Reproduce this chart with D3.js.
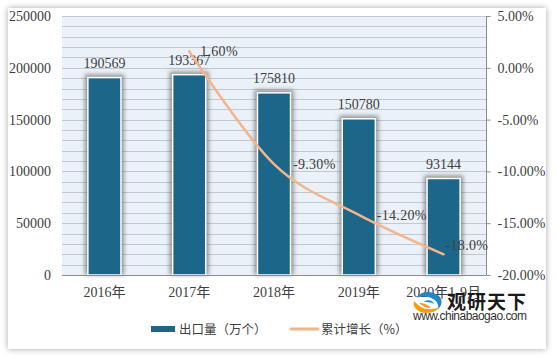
<!DOCTYPE html>
<html><head><meta charset="utf-8">
<script src="https://cdn.jsdelivr.net/npm/d3@7"></script>
<style>body{margin:0;background:#fff;overflow:hidden}</style>
</head><body>
<svg id="c" width="556" height="358"></svg>
<script>
const categories = ["2016年", "2017年", "2018年", "2019年", "2020年1-9月"];
const exportVolume = [190569, 193367, 175810, 150780, 93144];
const growthCategories = ["2017年", "2018年", "2019年", "2020年1-9月"];
const growthRate = [1.6, -9.3, -14.2, -18.0];
const growthLabels = ["1.60%", "-9.30%", "-14.20%", "-18.0%"];
const leftTicks = [0, 50000, 100000, 150000, 200000, 250000];
const rightTicks = [5, 0, -5, -10, -15, -20];
const rightTickLabels = ["5.00%", "0.00%", "-5.00%", "-10.00%", "-15.00%", "-20.00%"];
const legendNames = ["出口量（万个）", "累计增长（%）"];

// layout (not data)
const lineLabelOffsets = [[11, 0], [19, 0], [18, 0], [2, -9]];

const svg = d3.select("#c");
const defs = svg.append("defs");
const fs = defs.append("filter").attr("id", "cardShadow").attr("x", "-5%").attr("y", "-5%").attr("width", "110%").attr("height", "110%");
fs.append("feDropShadow").attr("dx", 0).attr("dy", 0).attr("stdDeviation", 3).attr("flood-color", "#000").attr("flood-opacity", 0.35);
const fb = defs.append("filter").attr("id", "barShadow").attr("x", "-30%").attr("y", "-10%").attr("width", "160%").attr("height", "120%");
fb.append("feGaussianBlur").attr("stdDeviation", 2);

svg.append("rect").attr("width", 556).attr("height", 358).attr("fill", "#fff");
svg.append("rect").attr("x", 8).attr("y", 8).attr("width", 538).attr("height", 341)
  .attr("fill", "#fff").attr("filter", "url(#cardShadow)");

const X0 = 62, X1 = 486, YT = 16, YB = 275;
const x = d3.scaleBand().domain(categories).range([X0, X1]).paddingInner(0).paddingOuter(0);
const yL = d3.scaleLinear().domain([0, 250000]).range([YB, YT]);
const yR = d3.scaleLinear().domain([-20, 5]).range([YB, YT]);

// plot background
svg.append("rect").attr("x", X0).attr("y", YT).attr("width", X1 - X0).attr("height", YB - YT).attr("fill", "#eaf1f8");

// gridlines every 10000
const gridVals = d3.range(10000, 250001, 10000);
svg.append("g").selectAll("line").data(gridVals).join("line")
  .attr("x1", X0).attr("x2", X1)
  .attr("y1", d => Math.round(yL(d)) + 0.5).attr("y2", d => Math.round(yL(d)) + 0.5)
  .attr("stroke", "#c3c8ce").attr("stroke-width", 1);

// bars
const bw = x.bandwidth() * 0.39;
const bars = svg.append("g");
bars.selectAll("rect.sh").data(exportVolume).join("rect").attr("class", "sh")
  .attr("x", (d, i) => x(categories[i]) + x.bandwidth() / 2 - bw / 2 - 3)
  .attr("y", d => yL(d) - 3)
  .attr("width", bw + 6).attr("height", d => YB - yL(d) + 3)
  .attr("fill", "#444").attr("opacity", 0.55).attr("filter", "url(#barShadow)");
bars.selectAll("rect.b").data(exportVolume).join("rect").attr("class", "b")
  .attr("x", (d, i) => x(categories[i]) + x.bandwidth() / 2 - bw / 2)
  .attr("y", d => yL(d))
  .attr("width", bw).attr("height", d => YB - yL(d))
  .attr("fill", "#1b6689").attr("stroke", "#fff").attr("stroke-width", 1.5);

// axes lines
svg.append("line").attr("x1", X0).attr("x2", X1).attr("y1", YB + 0.5).attr("y2", YB + 0.5).attr("stroke", "#8c8c8c");
svg.append("line").attr("x1", X1 + 0.5).attr("x2", X1 + 0.5).attr("y1", YT).attr("y2", YB).attr("stroke", "#8c8c8c");

const txtFont = "'Liberation Serif', 'Noto Sans CJK SC', serif";
const txtColor = "#404040";

// left axis
const leftAxis = d3.axisLeft(yL).tickValues(leftTicks).tickSize(0).tickPadding(11).tickFormat(d3.format("d"));
const gl = svg.append("g").attr("transform", `translate(${X0},0)`).call(leftAxis);
gl.select(".domain").remove();
gl.selectAll("text").attr("font-family", txtFont).attr("font-size", 14).attr("fill", txtColor);

// right axis
const rightAxis = d3.axisRight(yR).tickValues(rightTicks).tickSize(4).tickPadding(7)
  .tickFormat((d, i) => rightTickLabels[i]);
const gr = svg.append("g").attr("transform", `translate(${X1 + 0.5},0)`).call(rightAxis);
gr.select(".domain").remove();
gr.selectAll("line").attr("stroke", "#8c8c8c");
gr.selectAll("text").attr("font-family", txtFont).attr("font-size", 14).attr("fill", txtColor);

// bottom axis
const bottomAxis = d3.axisBottom(x).tickSize(0).tickPadding(12);
const gb = svg.append("g").attr("transform", `translate(0,${YB})`).call(bottomAxis);
gb.select(".domain").remove();
gb.selectAll("text").attr("font-family", txtFont).attr("font-size", 14).attr("fill", txtColor);

// bar labels
svg.append("g").selectAll("text").data(exportVolume).join("text")
  .attr("x", (d, i) => x(categories[i]) + x.bandwidth() / 2)
  .attr("y", d => yL(d) - 9.5)
  .attr("text-anchor", "middle")
  .attr("font-family", txtFont).attr("font-size", 14).attr("fill", txtColor)
  .text(d => d);

// growth line
const pts = growthRate.map((v, i) => [x(growthCategories[i]) + x.bandwidth() / 2, yR(v)]);
const line = d3.line().curve(d3.curveCatmullRom.alpha(0));
svg.append("path").attr("d", line(pts)).attr("fill", "none")
  .attr("stroke", "#f5b58a").attr("stroke-width", 2.5).attr("stroke-linecap", "round");

// growth labels
svg.append("g").selectAll("text").data(growthLabels).join("text")
  .attr("x", (d, i) => pts[i][0] + lineLabelOffsets[i][0])
  .attr("y", (d, i) => pts[i][1] + lineLabelOffsets[i][1] + 5)
  .attr("font-family", txtFont).attr("font-size", 14).attr("fill", txtColor)
  .attr("letter-spacing", 0.3)
  .text(d => d);

// legend
const lg = svg.append("g");
lg.append("rect").attr("x", 151).attr("y", 326).attr("width", 24).attr("height", 6).attr("fill", "#1b6689");
lg.append("text").attr("x", 179).attr("y", 333.5).attr("font-family", "'Noto Sans CJK SC', sans-serif")
  .attr("font-size", 12.5).attr("fill", txtColor).text(legendNames[0]);
lg.append("line").attr("x1", 291).attr("x2", 318).attr("y1", 329).attr("y2", 329)
  .attr("stroke", "#f5b58a").attr("stroke-width", 3).attr("stroke-linecap", "round");
lg.append("text").attr("x", 321).attr("y", 333.5).attr("font-family", "'Noto Sans CJK SC', sans-serif")
  .attr("font-size", 12.5).attr("fill", txtColor).text(legendNames[1]);

// watermark logo
const logo = svg.append("g");
// blue swoosh (upper right)
logo.append("path").attr("d", "M417,298 C420,291 432,290 439,296 C443,300 442,306 438,309 C439,305 437,301 433,299 C428,296 421,296 417,298 Z").attr("fill", "#1e88c8");
logo.append("path").attr("d", "M424,302 C427,299 433,300 434,304 C431,302 427,302 424,302 Z").attr("fill", "#1e88c8");
// orange swoosh (lower left)
logo.append("path").attr("d", "M414,301 C412,307 418,313 426,313 C433,313 438,310 439,307 C434,310 426,310 421,307 C418,305 416,303 414,301 Z").attr("fill", "#f39a1e");
logo.append("path").attr("d", "M419,303 C424,303 429,305 431,308 C427,308 422,306 419,303 Z").attr("fill", "#f39a1e");
logo.append("text").attr("x", 447).attr("y", 309).attr("font-family", "'Noto Sans CJK SC', sans-serif")
  .attr("font-weight", "bold").attr("font-size", 19).attr("fill", "#1a1a1a").attr("letter-spacing", 1).text("观研天下");
logo.append("text").attr("x", 413).attr("y", 320).attr("font-family", "'Liberation Sans', Arial, sans-serif")
  .attr("font-size", 12).attr("fill", "#333").attr("textLength", 114).text("www.chinabaogao.com");
</script>
</body></html>
